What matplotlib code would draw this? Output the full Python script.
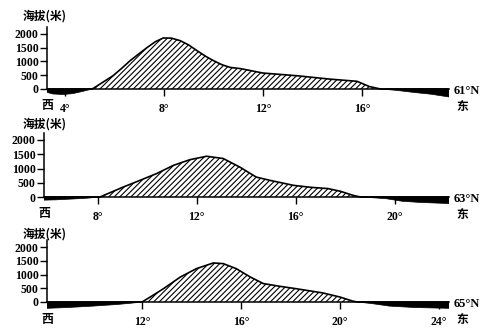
import numpy as np
import matplotlib.pyplot as plt

plt.rcParams['font.family'] = ['Liberation Serif', 'Noto Sans CJK SC', 'DejaVu Sans']
plt.rcParams['hatch.linewidth'] = 0.8

# Profiles along three latitudes (lon in degrees E, elevation in m, sea < 0)
lon_61 = [3.27, 3.5, 3.9, 4.3, 4.7, 5.1, 5.5, 5.94, 6.3, 6.63, 7.0, 7.32, 7.65,
          7.97, 8.3, 8.66, 9.0, 9.34, 9.7, 10.0, 10.35, 10.68, 11.1, 12.0, 13.4,
          14.7, 15.8, 16.3, 16.75, 17.4, 18.1, 18.8, 19.52]
elev_61 = [-120, -180, -200, -170, -90, 0, 230, 484, 760, 1030, 1290, 1510, 1720,
           1855, 1850, 1756, 1600, 1390, 1180, 1030, 880, 785, 740, 580, 480,
           360, 280, 90, 0, -50, -125, -190, -290]

lon_63 = [5.84, 6.3, 7.0, 7.6, 8.1, 8.5, 9.04, 9.7, 10.38, 11.06, 11.73, 12.4,
          13.07, 13.74, 14.4, 14.95, 15.9, 16.6, 17.3, 17.8, 18.3, 18.6, 19.0,
          19.65, 20.3, 21.0, 21.6, 22.18]
elev_63 = [-110, -100, -70, -40, 0, 150, 350, 580, 820, 1110, 1310, 1430,
           1350, 1050, 700, 585, 410, 340, 295, 200, 60, 0, -20,
           -60, -150, -190, -210, -230]

lon_65 = [8.16, 9.0, 10.0, 11.0, 11.6, 12.0, 12.4, 12.87, 13.55, 14.2, 14.88,
          15.28, 15.8, 16.37, 16.9, 17.57, 18.2, 19.3, 20.0, 20.5, 20.7, 21.3,
          22.0, 23.0, 24.4]
elev_65 = [-230, -200, -150, -90, -40, 0, 220, 487, 910, 1215, 1420,
           1395, 1215, 910, 670, 570, 487, 330, 180, 35, 0, -60,
           -150, -200, -230]

ticks_61 = [4, 8, 12, 16]
ticks_63 = [8, 12, 16, 20]
ticks_65 = [12, 16, 20, 24]
yticks = [0, 500, 1000, 1500, 2000]

W, H = 488, 331
fig = plt.figure(figsize=(W / 100, H / 100), dpi=100)

# (lon, elev, ticks, label, x0 px, x1 px, zero px, px per 1000 m, label y px)
panels = [
    (lon_61, elev_61, ticks_61, '61°N', 47, 449, 89, 27.5, 16),
    (lon_63, elev_63, ticks_63, '63°N', 44, 449, 197, 28.5, 124),
    (lon_65, elev_65, ticks_65, '65°N', 47, 449, 302, 27.5, 234),
]

ymin, ymax = -400, 2400
for lon, elev, ticks, lat, x0, x1, yz, s, ty in panels:
    top = yz - ymax / 1000 * s
    bot = yz - ymin / 1000 * s
    ax = fig.add_axes([x0 / W, 1 - bot / H, (x1 - x0) / W, (bot - top) / H])
    lon = np.array(lon)
    elev = np.array(elev)
    ax.set_xlim(lon[0], lon[-1])
    ax.set_ylim(ymin, ymax)

    ax.fill_between(lon, elev, 0, where=elev >= 0, interpolate=True,
                    facecolor='white', edgecolor='black', hatch='//////', linewidth=0)
    ax.fill_between(lon, elev, 0, where=elev <= 0, interpolate=True,
                    facecolor='black', edgecolor='black', linewidth=0.5)
    ax.plot(lon, np.clip(elev, 0, None), color='black', lw=1.2)

    for sp in ['top', 'right']:
        ax.spines[sp].set_visible(False)
    ax.spines['bottom'].set_position(('data', 0))
    ax.spines['left'].set_bounds(0, 2250)
    ax.spines['left'].set_linewidth(1.1)
    ax.spines['bottom'].set_linewidth(1.1)

    ax.set_yticks(yticks)
    ax.set_yticklabels([str(v) for v in yticks], fontsize=8.5, fontweight='bold')
    ax.tick_params(axis='y', direction='out', length=5, width=1, pad=1)
    ax.set_xticks(ticks)
    ax.set_xticklabels([f'{t}°' for t in ticks], fontsize=8.5, fontweight='bold')
    ax.tick_params(axis='x', direction='out', length=5, width=1, pad=5)
    ax.patch.set_visible(False)

    fig.text(45 / W, 1 - ty / H, '海拔(米)', ha='center', va='center', fontsize=8.5,
             fontweight='bold', family=['Noto Sans CJK SC', 'DejaVu Sans'])
    fig.text(x0 / W, 1 - (yz + 17) / H, '西', ha='center', va='center', fontsize=8.5,
             fontweight='bold', family=['Noto Sans CJK SC', 'DejaVu Sans'])
    fig.text(462 / W, 1 - (yz + 17) / H, '东', ha='center', va='center', fontsize=8.5,
             fontweight='bold', family=['Noto Sans CJK SC', 'DejaVu Sans'])
    fig.text(454 / W, 1 - (yz + 2) / H, lat, ha='left', va='center', fontsize=9,
             fontweight='bold')

fig.savefig('out.png', dpi=100, facecolor='white')
